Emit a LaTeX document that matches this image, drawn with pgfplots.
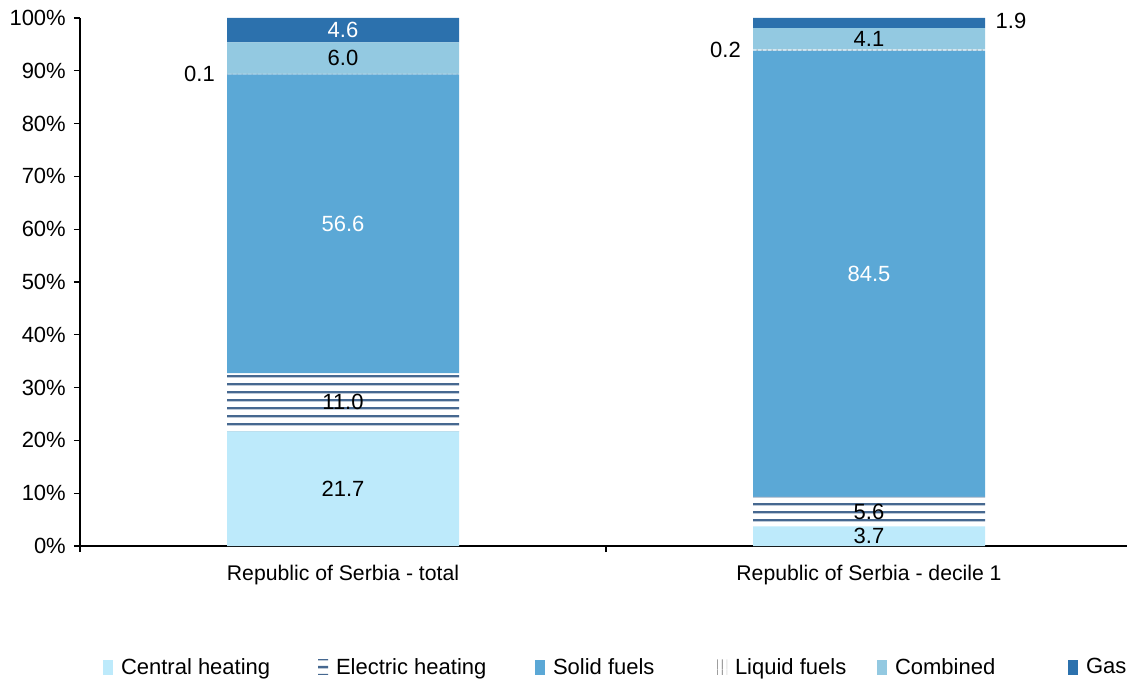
\documentclass[border=0pt]{standalone}
\usepackage{fontspec}
\setmainfont{Liberation Sans}
\usepackage{pgfplots}
\pgfplotsset{compat=1.18}
\usepackage{pgfplotstable}
\usetikzlibrary{patterns.meta}

\definecolor{cCentral}{HTML}{BDEAFB}
\definecolor{cSolid}{HTML}{5BA8D6}
\definecolor{cCombined}{HTML}{93C9E1}
\definecolor{cGas}{HTML}{2C71AD}
\definecolor{cStripe}{HTML}{466890}
\definecolor{cLiquid}{HTML}{6A6A6A}

\tikzdeclarepattern{
  name=elstripes, type=colored,
  bottom left={(0pt,0pt)}, top right={(10pt,7.7pt)},
  tile size={(10pt,7.7pt)},
  code={\fill[cStripe] (0pt,2.7pt) rectangle (10pt,5pt);}
}
\tikzdeclarepattern{
  name=liqlines, type=colored,
  bottom left={(0pt,0pt)}, top right={(5pt,10pt)},
  tile size={(5pt,10pt)},
  code={\fill[cLiquid] (2pt,0pt) rectangle (3pt,10pt);}
}

\pgfplotstableread{
x central electric solid liquid combined gas
0 21.7 11.0 56.6 0.1 6.0 4.6
1 3.7 5.6 84.5 0.2 4.1 1.9
}\heat

\newcommand\lblfmt{\pgfmathprintnumber[assume math mode=true,fixed,fixed zerofill,precision=1]{\pgfplotspointmeta}}
\newcommand\chartfont{\fontsize{22}{26}\selectfont}

\pgfplotsset{
  mylegend/.style={legend image code/.code={\path[##1] (0pt,-7.5pt) rectangle (10pt,7.5pt);}},
  midlabel/.style 2 args={
    point meta=\thisrow{#1},
    nodes near coords={\lblfmt},
    every node near coord/.append style={anchor=center, inner sep=0pt, text=#2,
      font=\chartfont},
  },
}

\begin{document}
\begin{tikzpicture}
\begin{axis}[
  at={(0pt,0pt)}, anchor=south west,
  x=526pt, y=5.28pt,
  xmin=-0.5, xmax=1.5, ymin=0, ymax=100,
  enlarge x limits=false, enlarge y limits=false,
  ybar stacked, bar width=232pt,
  axis x line=bottom, axis y line=left,
  axis line style={-, line width=1.2pt, black},
  tick align=outside,
  major tick length=6pt,
  tick style={black, line width=1.2pt},
  ytick={0,10,20,30,40,50,60,70,80,90,100},
  yticklabels={0\%,10\%,20\%,30\%,40\%,50\%,60\%,70\%,80\%,90\%,100\%},
  yticklabel style={anchor=east, inner sep=0pt, xshift=-8pt, font=\chartfont},
  xtick={-0.5,0.5,1.5}, xticklabels={},
  extra x ticks={0,1},
  extra x tick labels={Republic of Serbia - total, Republic of Serbia - decile 1},
  extra x tick style={major tick length=0pt, xticklabel style={anchor=base, inner sep=0pt, yshift=-34pt, font=\fontsize{21.2}{25}\selectfont}},
  clip=false,
  legend columns=6,
  legend cell align=left,
  legend style={at={(axis description cs:0.02186,-0.2292)}, anchor=west,
    draw=none, fill=none, inner sep=0pt, outer sep=0pt, font=\chartfont,
    /tikz/every odd column/.append style={column sep=6pt},
    /tikz/every even column/.append style={column sep=0pt}},
]
\addplot[fill=cCentral, draw=none, mylegend, midlabel={central}{black}]
  table[x=x, y=central]{\heat};
\addlegendentry{\makebox[195pt][l]{Central heating}}

\addplot[fill=white, draw=none, postaction={pattern=elstripes}, mylegend, midlabel={electric}{black}]
  table[x=x, y=electric]{\heat};
\addlegendentry{\makebox[197pt][l]{Electric heating}}

\addplot[fill=cSolid, draw=none, mylegend, midlabel={solid}{white}]
  table[x=x, y=solid]{\heat};
\addlegendentry{\makebox[162pt][l]{Solid fuels}}

\addplot[fill=white, draw=none, postaction={pattern=liqlines}, mylegend,
  point meta=\thisrow{liquid},
  nodes near coords={\lblfmt},
  every node near coord/.append style={anchor=east, inner sep=0pt, text=black,
    font=\chartfont, xshift=-128pt}]
  table[x=x, y=liquid]{\heat};
\addlegendentry{\makebox[140pt][l]{Liquid fuels}}

\addplot[fill=cCombined, draw=none, mylegend, midlabel={combined}{black}]
  table[x=x, y=combined]{\heat};
\addlegendentry{\makebox[171pt][l]{Combined}}

\addplot[fill=cGas, draw=none, mylegend,
  point meta=\thisrow{gas},
  visualization depends on={\thisrow{x} \as \cx},
  nodes near coords={\ifdim\cx pt<0.5pt\color{white}\fi\lblfmt},
  every node near coord/.append style={anchor=center, inner sep=0pt, text=black,
    font=\chartfont, xshift={\cx*142pt}, yshift={\cx*2pt}}]
  table[x=x, y=gas]{\heat};
\addlegendentry{Gas}
\end{axis}
\pgfresetboundingbox
\path[use as bounding box] (-80pt,-132pt) rectangle (1047pt,546pt);
\end{tikzpicture}
\end{document}
